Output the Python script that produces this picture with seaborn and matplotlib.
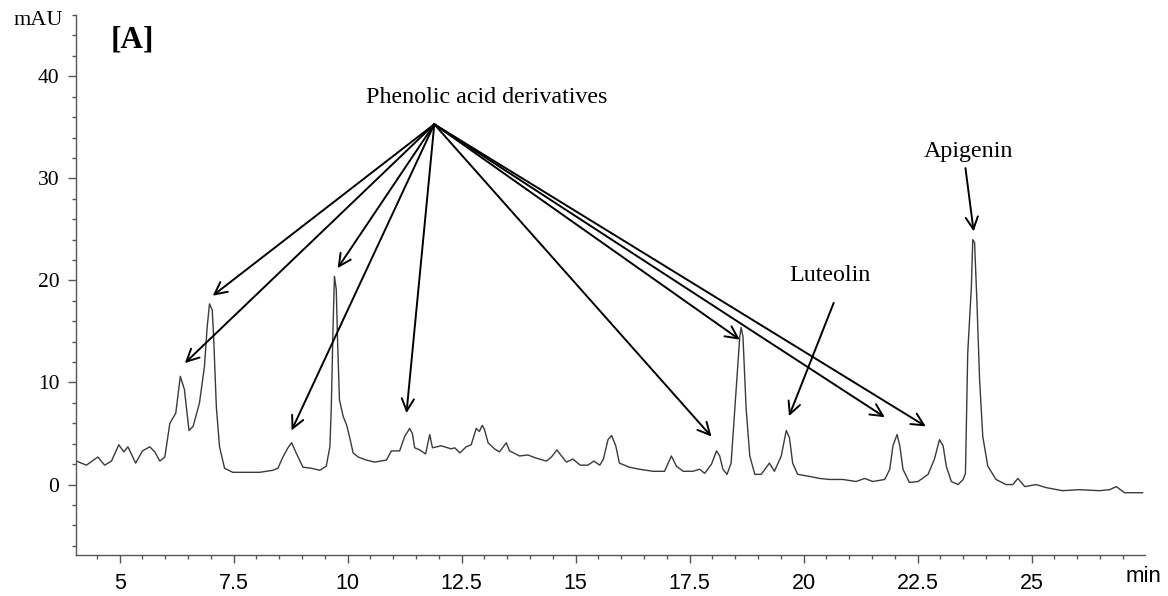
import matplotlib
matplotlib.use("Agg")
import matplotlib.pyplot as plt
import numpy as np
import pandas as pd
import seaborn as sns

# chromatogram trace (retention time in min, absorbance in mAU)
rt_min = [
    4.05, 4.27, 4.52, 4.67, 4.82, 4.98, 5.09, 5.18, 5.35, 5.50, 5.66, 5.77, 5.88, 5.99,
    6.10, 6.23, 6.33, 6.42, 6.52, 6.61, 6.75, 6.86, 6.92, 6.97, 7.03, 7.06, 7.12, 7.19,
    7.30, 7.48, 8.07, 8.36, 8.47, 8.58, 8.69, 8.77, 8.87, 9.02, 9.20, 9.39, 9.53, 9.61,
    9.64, 9.68, 9.71, 9.75, 9.78, 9.82, 9.90, 9.98, 10.04, 10.12, 10.23, 10.41, 10.59,
    10.85, 10.96, 11.14, 11.25, 11.36, 11.42, 11.47, 11.58, 11.71, 11.80, 11.86, 12.05,
    12.27, 12.35, 12.46, 12.60, 12.71, 12.82, 12.89, 12.95, 13.00, 13.08, 13.22, 13.33,
    13.48, 13.55, 13.77, 13.95, 14.13, 14.36, 14.47, 14.59, 14.69, 14.80, 14.94, 15.10,
    15.27, 15.40, 15.53, 15.61, 15.71, 15.79, 15.88, 15.96, 16.18, 16.40, 16.70, 16.95,
    17.10, 17.21, 17.36, 17.57, 17.72, 17.83, 17.98, 18.09, 18.16, 18.23, 18.32, 18.41,
    18.52, 18.60, 18.63, 18.67, 18.74, 18.82, 18.93, 19.07, 19.25, 19.36, 19.51, 19.62,
    19.69, 19.76, 19.87, 20.13, 20.35, 20.57, 20.86, 21.15, 21.34, 21.52, 21.78, 21.89,
    21.96, 22.05, 22.11, 22.18, 22.32, 22.51, 22.73, 22.87, 22.98, 23.06, 23.13, 23.24,
    23.39, 23.50, 23.55, 23.60, 23.68, 23.71, 23.75, 23.80, 23.86, 23.93, 24.04, 24.22,
    24.44, 24.59, 24.70, 24.85, 25.10, 25.32, 25.68, 26.05, 26.49, 26.71, 26.86, 27.04,
    27.44,
]
mau = [
    2.3, 1.9, 2.7, 1.9, 2.3, 3.9, 3.2, 3.7, 2.1, 3.3, 3.7, 3.2, 2.3, 2.7,
    6.0, 7.0, 10.6, 9.3, 5.3, 5.7, 8.0, 11.6, 15.5, 17.7, 17.1, 14.5, 7.6, 3.7,
    1.6, 1.2, 1.2, 1.4, 1.6, 2.7, 3.6, 4.1, 3.1, 1.7, 1.6, 1.4, 1.8, 3.7,
    7.4, 15.5, 20.4, 19.1, 13.9, 8.3, 6.7, 5.8, 4.7, 3.1, 2.7, 2.4, 2.2,
    2.4, 3.3, 3.3, 4.7, 5.5, 5.0, 3.6, 3.4, 3.0, 4.9, 3.6, 3.8,
    3.5, 3.6, 3.1, 3.7, 3.9, 5.5, 5.2, 5.8, 5.4, 4.1, 3.5, 3.2,
    4.1, 3.3, 2.8, 2.9, 2.6, 2.3, 2.7, 3.4, 2.8, 2.2, 2.5, 1.9,
    1.9, 2.3, 1.9, 2.5, 4.4, 4.8, 3.8, 2.1, 1.7, 1.5, 1.3, 1.3,
    2.8, 1.8, 1.3, 1.3, 1.5, 1.1, 2.0, 3.3, 2.8, 1.5, 1.0, 2.1,
    9.3, 14.5, 15.4, 14.5, 7.4, 2.8, 1.0, 1.0, 2.1, 1.3, 2.8, 5.3,
    4.6, 2.1, 1.0, 0.8, 0.6, 0.5, 0.5, 0.3, 0.6, 0.3, 0.5, 1.5,
    3.8, 4.9, 3.8, 1.5, 0.2, 0.3, 1.0, 2.5, 4.4, 3.8, 1.8, 0.3,
    0.0, 0.5, 1.1, 12.9, 19.4, 24.0, 23.7, 18.1, 10.3, 4.7, 1.8, 0.5,
    0.0, 0.0, 0.6, -0.2, 0.0, -0.3, -0.6, -0.5, -0.6, -0.5, -0.2, -0.8,
    -0.8,
]

# annotation arrows: common origin of the "Phenolic acid derivatives" arrows and their tips
acid_origin = (11.9, 35.3)
acid_tips = [(7.04, 18.5), (6.43, 11.9), (8.77, 5.3), (9.78, 21.2), (11.29, 7.0),
             (17.98, 4.7), (18.60, 14.2), (21.78, 6.6), (22.68, 5.7)]

sns.set_theme(style="ticks")
plt.rcParams["font.family"] = ["Liberation Serif", "DejaVu Serif"]
plt.rcParams["text.color"] = "black"

fig = plt.figure(figsize=(11.68, 5.96), dpi=100)
ax = fig.add_axes([0.065, 0.0688, 0.915, 0.906])

df = pd.DataFrame({"rt": rt_min, "mAU": mau})
sns.lineplot(data=df, x="rt", y="mAU", estimator=None, sort=True,
             color="#3a3a3a", linewidth=1.0, ax=ax)

ax.set_xlim(4.04, 27.48)
ax.set_ylim(-6.9, 46.0)
ax.set_xlabel("")
ax.set_ylabel("")

for side in ["top", "right"]:
    ax.spines[side].set_visible(False)
for side in ["left", "bottom"]:
    ax.spines[side].set_color("#555555")
    ax.spines[side].set_linewidth(1.0)

sans = ["Liberation Sans", "DejaVu Sans"]
ax.set_xticks([5, 7.5, 10, 12.5, 15, 17.5, 20, 22.5, 25])
ax.set_xticklabels(["5", "7.5", "10", "12.5", "15", "17.5", "20", "22.5", "25"],
                   family=sans, fontsize=15.5)
ax.set_xticks(np.arange(4.5, 27.5, 0.5), minor=True)
ax.set_yticks([0, 10, 20, 30, 40])
ax.set_yticklabels(["0", "10", "20", "30", "40"], fontsize=15.5)
ax.set_yticks(np.arange(-6, 47, 2), minor=True)
ax.tick_params(axis="both", which="major", length=6, width=1.0, color="#555555",
               labelcolor="black")
ax.tick_params(axis="both", which="minor", length=3, width=1.0, color="#555555")
ax.tick_params(axis="x", which="major", pad=7)
ax.tick_params(axis="y", which="major", pad=6)

arrow_kw = dict(arrowstyle="->", color="black", lw=1.4, mutation_scale=22,
                shrinkA=0, shrinkB=0)
for tip in acid_tips:
    ax.annotate("", xy=tip, xytext=acid_origin, arrowprops=arrow_kw)
ax.text(13.04, 37.9, "Phenolic acid derivatives", ha="center", va="center",
        fontsize=17.3)

ax.annotate("", xy=(19.68, 6.7), xytext=(20.66, 17.8), arrowprops=arrow_kw)
ax.text(20.57, 20.5, "Luteolin", ha="center", va="center", fontsize=17.3)

ax.annotate("", xy=(23.73, 24.8), xytext=(23.55, 31.0), arrowprops=arrow_kw)
ax.text(23.62, 32.6, "Apigenin", ha="center", va="center", fontsize=17.3)

ax.text(5.28, 43.6, "[A]", ha="center", va="center", fontsize=22.5,
        fontweight="bold")

fig.text(0.0325, 0.966, "mAU", ha="center", va="center", fontsize=16)
fig.text(0.979, 0.032, "min", ha="center", va="center", fontsize=16, family=sans)

fig.savefig("out.png", dpi=100, facecolor="white")
